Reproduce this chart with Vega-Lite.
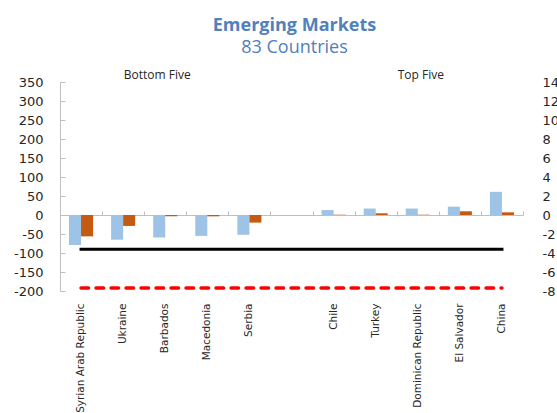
{
  "$schema": "https://vega.github.io/schema/vega-lite/v6.json",
  "autosize": {"type": "none"},
  "width": 463,
  "height": 209,
  "padding": {"left": 60, "top": 82, "right": 34, "bottom": 122},
  "background": "white",
  "config": {
    "view": {"stroke": null},
    "font": "DejaVu Sans",
    "axis": {"grid": false, "labelColor": "#262626", "labelFont": "DejaVu Sans"}
  },
  "title": {
    "text": "Emerging Markets",
    "subtitle": "83 Countries",
    "font": "Open Sans",
    "fontSize": 18,
    "fontWeight": "bold",
    "color": "#4F81BD",
    "subtitleFont": "Open Sans",
    "subtitleFontSize": 18,
    "subtitleColor": "#4F81BD",
    "subtitlePadding": 4,
    "anchor": "middle",
    "frame": "group",
    "offset": 12,
    "dx": 3
  },
  "data": {
    "values": [
      {"country": "Syrian Arab Republic", "series": "Blue", "value": -79},
      {"country": "Ukraine", "series": "Blue", "value": -65},
      {"country": "Barbados", "series": "Blue", "value": -59},
      {"country": "Macedonia", "series": "Blue", "value": -55},
      {"country": "Serbia", "series": "Blue", "value": -52},
      {"country": "Chile", "series": "Blue", "value": 13},
      {"country": "Turkey", "series": "Blue", "value": 17},
      {"country": "Dominican Republic", "series": "Blue", "value": 17},
      {"country": "El Salvador", "series": "Blue", "value": 22},
      {"country": "China", "series": "Blue", "value": 61},
      {"country": "Syrian Arab Republic", "series": "Orange", "value": -2.25},
      {"country": "Ukraine", "series": "Orange", "value": -1.15},
      {"country": "Barbados", "series": "Orange", "value": -0.12},
      {"country": "Macedonia", "series": "Orange", "value": -0.14},
      {"country": "Serbia", "series": "Orange", "value": -0.8},
      {"country": "Chile", "series": "Orange", "value": 0.03},
      {"country": "Turkey", "series": "Orange", "value": 0.18},
      {"country": "Dominican Republic", "series": "Orange", "value": 0.03},
      {"country": "El Salvador", "series": "Orange", "value": 0.39},
      {"country": "China", "series": "Orange", "value": 0.28}
    ]
  },
  "layer": [
    {
      "transform": [{"filter": "datum.series == 'Blue'"}],
      "mark": {"type": "bar", "color": "#9DC3E6"},
      "encoding": {
        "x": {
          "field": "country", "type": "nominal",
          "scale": {"domain": ["Syrian Arab Republic", "Ukraine", "Barbados", "Macedonia", "Serbia", " ", "Chile", "Turkey", "Dominican Republic", "El Salvador", "China"], "paddingInner": 0, "paddingOuter": 0},
          "axis": {"orient": "bottom", "title": null, "labelAngle": -90, "domain": false, "ticks": false, "labelPadding": 12, "labelFontSize": 10.5, "labelFont": "DejaVu Sans"}
        },
        "xOffset": {"field": "series", "type": "nominal", "scale": {"domain": ["Blue", "Orange"], "paddingInner": 0, "paddingOuter": 0.75}},
        "y": {
          "field": "value", "type": "quantitative",
          "scale": {"domain": [-200, 350], "nice": false, "zero": false},
          "axis": {"orient": "left", "title": null, "values": [-200, -150, -100, -50, 0, 50, 100, 150, 200, 250, 300, 350], "labelExpr": "replace(format(datum.value, 'd'), '\u2212', '-')", "domainColor": "#BFBFBF", "tickColor": "#BFBFBF", "tickSize": -5, "labelPadding": 22, "labelFontSize": 13}
        }
      }
    },
    {
      "transform": [{"filter": "datum.series == 'Orange'"}],
      "mark": {"type": "bar", "color": "#C55A11"},
      "encoding": {
        "x": {
          "field": "country", "type": "nominal",
          "axis": {"orient": "top", "title": null, "labels": false, "offset": -133, "domainColor": "#BFBFBF", "tickColor": "#BFBFBF", "tickBand": "extent", "tickSize": 4}
        },
        "xOffset": {"field": "series", "type": "nominal"},
        "y": {
          "field": "value", "type": "quantitative",
          "scale": {"domain": [-8, 14], "nice": false, "zero": false},
          "axis": {"orient": "right", "title": null, "values": [-8, -6, -4, -2, 0, 2, 4, 6, 8, 10, 12, 14], "labelExpr": "replace(format(datum.value, 'd'), '\u2212', '-')", "domain": false, "ticks": false, "labelPadding": 19, "labelFontSize": 13}
        }
      }
    },
    {
      "data": {"values": [
        {"country": "Syrian Arab Republic", "level": -90},
        {"country": "China", "level": -90}
      ]},
      "mark": {"type": "line", "color": "#000000", "strokeWidth": 3, "strokeCap": "square"},
      "encoding": {
        "x": {"field": "country", "type": "nominal", "axis": null},
        "y": {"field": "level", "type": "quantitative", "scale": {"domain": [-200, 350], "nice": false, "zero": false}, "axis": null}
      }
    },
    {
      "data": {"values": [
        {"country": "Syrian Arab Republic", "level": -192},
        {"country": "China", "level": -192}
      ]},
      "mark": {"type": "line", "color": "#FF0000", "strokeWidth": 3.5, "strokeDash": [7.5, 7.5], "strokeCap": "round"},
      "encoding": {
        "x": {"field": "country", "type": "nominal", "axis": null},
        "y": {"field": "level", "type": "quantitative", "scale": {"domain": [-200, 350], "nice": false, "zero": false}, "axis": null}
      }
    },
    {
      "data": {"values": [
        {"label": "Bottom Five", "country": "Barbados"}
      ]},
      "mark": {"type": "text", "font": "Open Sans", "fontSize": 12, "color": "#262626", "baseline": "alphabetic", "dy": -3, "dx": -8},
      "encoding": {
        "x": {"field": "country", "type": "nominal", "axis": null},
        "y": {"datum": 350, "type": "quantitative", "scale": {"domain": [-200, 350], "nice": false, "zero": false}, "axis": null},
        "text": {"field": "label"}
      }
    },
    {
      "data": {"values": [
        {"label": "Top Five", "country": "Dominican Republic"}
      ]},
      "mark": {"type": "text", "font": "Open Sans", "fontSize": 12, "color": "#262626", "baseline": "alphabetic", "dy": -3, "dx": 3},
      "encoding": {
        "x": {"field": "country", "type": "nominal", "axis": null},
        "y": {"datum": 350, "type": "quantitative", "scale": {"domain": [-200, 350], "nice": false, "zero": false}, "axis": null},
        "text": {"field": "label"}
      }
    }
  ],
  "resolve": {"scale": {"y": "independent"}, "axis": {"x": "independent", "y": "independent"}}
}
